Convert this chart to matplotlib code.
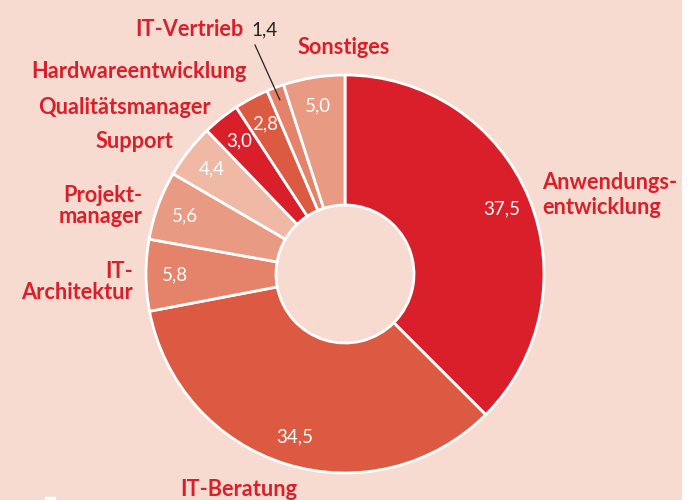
import numpy as np
import matplotlib
matplotlib.use("Agg")
import matplotlib.pyplot as plt
from matplotlib.patches import Rectangle

# data
categories = ["Anwendungsentwicklung", "IT-Beratung", "IT-Architektur", "Projektmanager",
              "Support", "Qualitätsmanager", "Hardwareentwicklung", "IT-Vertrieb", "Sonstiges"]
label_texts = ["Anwendungs-\nentwicklung", "IT-Beratung", "IT-\nArchitektur", "Projekt-\nmanager",
               "Support", "Qualitätsmanager", "Hardwareentwicklung", "IT-Vertrieb", "Sonstiges"]
values = [37.5, 34.5, 5.8, 5.6, 4.4, 3.0, 2.8, 1.4, 5.0]
value_labels = ["37,5", "34,5", "5,8", "5,6", "4,4", "3,0", "2,8", "1,4", "5,0"]

colors = ["#d9202a", "#dd5a42", "#e5826a", "#e89a82", "#efb9a6",
          "#d9202a", "#dd5a42", "#e5826a", "#e89a82"]
bg = "#f7dbd0"
red = "#d9202a"

W, H = 691, 500
fig = plt.figure(figsize=(W / 100, H / 100), dpi=100)
fig.patch.set_facecolor("white")
ax = fig.add_axes([0, 0, 682 / W, 1])
ax.add_patch(Rectangle((0, 0), 682, H, color=bg, zorder=0))


def px(x, y):
    # pixel coords (top-left origin) -> data coords
    return x, H - y


cx, cy = px(345, 274)
R = 199

wedges, _ = ax.pie(values, colors=colors, startangle=90, counterclock=False,
                   center=(cx, cy), radius=R, frame=True,
                   wedgeprops=dict(width=R - 69, edgecolor="white", linewidth=2))
ax.set_xlim(0, 682)
ax.set_ylim(0, H)
ax.set_aspect("equal")
ax.set_axis_off()

# value labels inside the ring
for w, lab, cat in zip(wedges, value_labels, categories):
    ang = np.deg2rad((w.theta1 + w.theta2) / 2)
    if cat == "IT-Vertrieb":
        tx, ty = px(264, 30)
        x0, y0 = cx + 186 * np.cos(ang), cy + 186 * np.sin(ang)
        ax.plot([x0, 255], [y0, H - 45], color="#222222", lw=0.9)
        ax.text(tx, ty, lab, color="#222222", fontsize=13.5, family="Lato",
                ha="center", va="center")
        continue
    r = 170
    ax.text(cx + r * np.cos(ang), cy + r * np.sin(ang), lab, color="white",
            fontsize=13.5, family="Lato", ha="center", va="center")

# category labels: x, y, alignment, line spacing
label_pos = [(542, 195, "left", 1.25), (239, 489, "center", 1.0), (133, 282, "right", 1.0),
             (142, 206, "right", 1.0), (173, 142, "right", 1.0), (211, 107, "right", 1.0),
             (247, 72, "right", 1.0), (243, 29, "right", 1.0), (298, 47, "left", 1.0)]
for txt, (x, y, ha, ls) in zip(label_texts, label_pos):
    ax.text(*px(x, y), txt, color=red, fontsize=15.7, fontweight="bold",
            family="Lato", ha=ha, va="center", linespacing=ls)

# small cropped white mark at bottom-left
ax.add_patch(Rectangle(px(45, 500), 10, 3, color="white", zorder=5))

fig.savefig("out.png", dpi=100, facecolor=fig.get_facecolor())
